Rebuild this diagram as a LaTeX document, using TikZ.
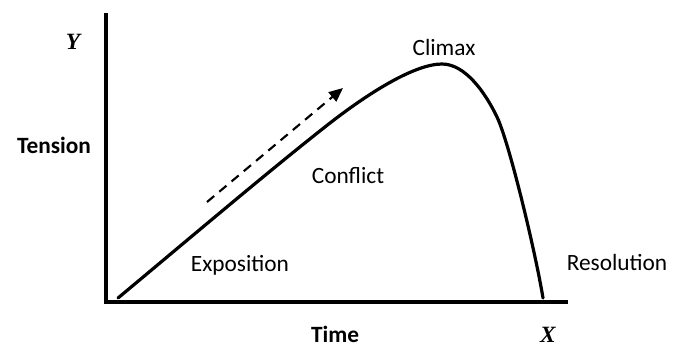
\documentclass[tikz,border=0pt]{standalone}
\usepackage{fontspec}
\setmainfont{Carlito}
\newfontfamily\axisfont{Liberation Serif}
\usepackage{tikz}
\usetikzlibrary{arrows.meta}
\tikzset{
scaxis/.style={line width=3pt,line cap=rect},
sccurve/.style={line width=2.4pt,line cap=round},
scarrow/.style={-{Triangle[length=10.5pt,width=9pt]},line width=1.6pt,dash pattern=on 7pt off 5pt},
sclabel/.style={font=\fontsize{17.5}{21}\selectfont,inner sep=0pt,anchor=base},
scname/.style={sclabel,font=\fontsize{17.5}{21}\selectfont\bfseries},
scvar/.style={sclabel,font=\fontsize{17.5}{21}\selectfont\axisfont\bfseries\itshape}
}
\begin{document}
\begin{tikzpicture}[
x=0.75pt,
y=-0.75pt
]
\useasboundingbox (0,0) rectangle (673,347);
% axes
\coordinate (ytop) at (106,15);
\coordinate (xend) at (566,302);
\draw[scaxis] (ytop) |- (xend);
% tension curve
\coordinate (start) at (118,298);
\coordinate (rise) at (330,123);
\coordinate (peak) at (442,64);
\coordinate (fall) at (497,117);
\coordinate (stop) at (543,298);
\draw[sccurve] (start) .. controls (190,238) and (270,170) .. (rise)
  .. controls (370,92) and (415,64) .. (peak)
  .. controls (465,64) and (485,92) .. (fall)
  .. controls (509,142) and (535,250) .. (stop);
% direction arrow
\coordinate (dashfrom) at (207,202);
\coordinate (dashto) at (343,88);
\draw[scarrow] (dashfrom) -- (dashto);
% labels
\node[scvar] (ylab) at (73,49) {Y};
\node[scname] (tension) at (54,153) {Tension};
\node[sclabel] (climax) at (444,55) {Climax};
\node[sclabel] (conflict) at (348,183) {Conflict};
\node[sclabel] (exposition) at (240,271) {Exposition};
\node[sclabel] (resolution) at (617,270) {Resolution};
\node[scname] (time) at (335,342) {Time};
\node[scvar] (xlab) at (548,342) {X};
\end{tikzpicture}
\end{document}
